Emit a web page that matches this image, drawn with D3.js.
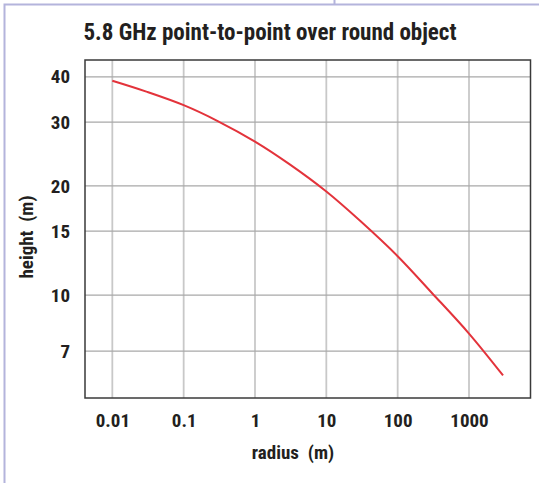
<!DOCTYPE html>
<html>
<head>
<meta charset="utf-8">
<script src="https://cdn.jsdelivr.net/npm/d3@7"></script>
<style>
  body { margin: 0; background: #fff; }
  svg text { font-family: "Liberation Sans Narrow", "Roboto Condensed", "Arial Narrow", sans-serif; font-weight: bold; fill: #231f20; white-space: pre; }
</style>
</head>
<body>
<div id="chart"></div>
<script>
// radius (m) vs height (m)
var radius = [0.01, 0.03, 0.1, 0.3, 1, 3, 10, 30, 100, 300, 1000, 3000]
var height = [39.0, 36.4, 33.4, 30.2, 26.5, 23.0, 19.3, 16.0, 12.8, 10.15, 7.83, 6.0]
var xTicks = [0.01, 0.1, 1, 10, 100, 1000]
var yTicks = [7, 10, 15, 20, 30, 40]
var xTickLabels = ["0.01", "0.1", "1", "10", "100", "1000"]

var W = 539, H = 483
var margin = {left: 85, right: 8.5, top: 60, bottom: 85}

var svg = d3.select("#chart").append("svg")
    .attr("width", W)
    .attr("height", H)

// page frame
var frameColor = "#b4b4dc"
svg.append("path")
    .attr("d", "M4.5,483 V4.5 H539 M334.5,0 V4.5")
    .attr("fill", "none")
    .attr("stroke", frameColor)
    .attr("stroke-width", 2)

let x = d3.scaleLog()
    .domain([0.00414, 7280])
    .range([margin.left, W - margin.right])

let y = d3.scaleLog()
    .domain([5.2, 44.5])
    .range([H - margin.bottom, margin.top])

// grid
svg.append("g")
    .selectAll("line")
    .data(xTicks)
    .enter()
    .append("line")
    .attr("x1", d => x(d)).attr("x2", d => x(d))
    .attr("y1", margin.top).attr("y2", H - margin.bottom)
    .attr("stroke", "#c8c8c8")
    .attr("stroke-width", 1.8)

svg.append("g")
    .selectAll("line")
    .data(yTicks)
    .enter()
    .append("line")
    .attr("x1", margin.left).attr("x2", W - margin.right)
    .attr("y1", d => y(d)).attr("y2", d => y(d))
    .attr("stroke", "#a8a8a8")
    .attr("stroke-width", 1.2)

// plot frame
svg.append("rect")
    .attr("x", margin.left)
    .attr("y", margin.top)
    .attr("width", W - margin.right - margin.left)
    .attr("height", H - margin.bottom - margin.top)
    .attr("fill", "none")
    .attr("stroke", "#3a3a3a")
    .attr("stroke-width", 1.5)

// axes (labels only)
var xAxis = d3.axisBottom(x).tickValues(xTicks).tickFormat((d, i) => xTickLabels[i]).tickSize(0).tickPadding(16)
var yAxis = d3.axisLeft(y).tickValues(yTicks).tickFormat(d3.format("d")).tickSize(0).tickPadding(15)

var xg = svg.append("g")
    .attr("transform", `translate(0,${H - margin.bottom})`)
    .call(xAxis)
var yg = svg.append("g")
    .attr("transform", `translate(${margin.left},0)`)
    .call(yAxis)

;[xg, yg].forEach(g => {
    g.select(".domain").remove()
    g.selectAll("text")
        .attr("font-size", 19)
        .attr("font-family", null)
        .attr("fill", "#231f20")
})

// curve
var line = d3.line()
    .x((d, i) => x(radius[i]))
    .y(d => y(d))
    .curve(d3.curveCatmullRom.alpha(0.5))

svg.append("path")
    .datum(height)
    .attr("d", line)
    .attr("fill", "none")
    .attr("stroke", "#e3333b")
    .attr("stroke-width", 2)

// titles
svg.append("text")
    .attr("x", 270)
    .attr("y", 40)
    .attr("text-anchor", "middle")
    .attr("font-size", 23)
    .text("5.8 GHz point-to-point over round object")

svg.append("text")
    .attr("x", 293)
    .attr("y", 459)
    .attr("text-anchor", "middle")
    .attr("font-size", 19)
    .text("radius  (m)")

svg.append("text")
    .attr("transform", "translate(33,237) rotate(-90)")
    .attr("text-anchor", "middle")
    .attr("font-size", 19)
    .text("height  (m)")
</script>
</body>
</html>
